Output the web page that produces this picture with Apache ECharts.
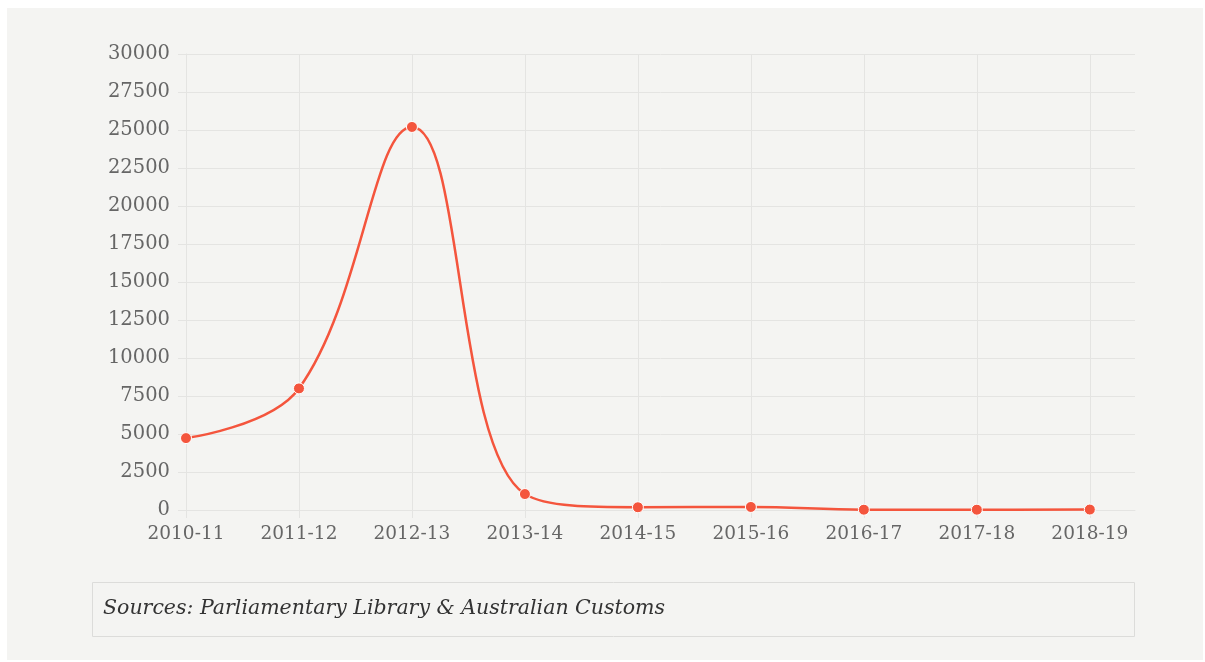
<!DOCTYPE html>
<html>
<head>
<meta charset="utf-8">
<title>Boat arrivals</title>
<script src="https://cdn.jsdelivr.net/npm/echarts@6/dist/echarts.min.js"></script>
<style>
  html, body { margin: 0; padding: 0; background: #ffffff; }
  #panel { position: absolute; left: 7px; top: 8px; width: 1196px; height: 652px; background: #f4f4f2; }
  #chart { width: 1196px; height: 652px; }
</style>
</head>
<body>
<div id="panel"><div id="chart"></div></div>
<script>
// Financial years shown along the horizontal axis
const years = ['2010-11', '2011-12', '2012-13', '2013-14', '2014-15', '2015-16', '2016-17', '2017-18', '2018-19'];
// Yearly totals
const arrivals = [4730, 8000, 25200, 1050, 180, 200, 20, 20, 30];
// Vertical axis range and step
const yMin = 0;
const yMax = 30000;
const yStep = 2500;

const serif = "Georgia, 'DejaVu Serif', serif";
const lineColor = '#f4553d';
const gridColor = '#e4e4e2';

const chart = echarts.init(document.getElementById('chart'));
chart.setOption({
  backgroundColor: 'transparent',
  animation: false,
  grid: { left: 179, top: 46, width: 949, height: 456, containLabel: false },
  xAxis: {
    type: 'value',
    min: 0,
    max: 8.4,
    interval: 1,
    axisLine: { show: true, lineStyle: { color: gridColor, width: 1 } },
    axisTick: { show: true, length: 8, lineStyle: { color: gridColor } },
    splitLine: { show: true, showMaxLine: false, lineStyle: { color: gridColor, width: 1 } },
    axisLabel: {
      showMaxLabel: false,
      margin: 15,
      color: '#666',
      fontFamily: serif,
      fontSize: 18.5,
      formatter: v => years[Math.round(v)] !== undefined && Math.abs(v - Math.round(v)) < 1e-6 ? years[Math.round(v)] : ''
    }
  },
  yAxis: {
    type: 'value',
    min: yMin,
    max: yMax,
    interval: yStep,
    axisLine: { show: true, lineStyle: { color: gridColor, width: 1 } },
    axisTick: { show: true, length: 8, lineStyle: { color: gridColor } },
    splitLine: { show: true, lineStyle: { color: gridColor, width: 1 } },
    axisLabel: {
      margin: 16,
      color: '#666',
      fontFamily: serif,
      fontSize: 19.5,
      formatter: v => String(v)
    }
  },
  series: [{
    type: 'line',
    data: arrivals.map((v, i) => [i, v]),
    smooth: 0.4,
    symbol: 'circle',
    symbolSize: 11,
    lineStyle: { color: lineColor, width: 2.5 },
    itemStyle: { color: lineColor, borderColor: '#ffffff', borderWidth: 1 },
    z: 5
  }],
  graphic: [
    {
      type: 'rect',
      shape: { x: 85.5, y: 574.5, width: 1042, height: 54 },
      style: { fill: '#f4f4f2', stroke: '#dcdcda', lineWidth: 1 }
    },
    {
      type: 'text',
      x: 96,
      y: 601,
      style: {
        text: 'Sources: Parliamentary Library & Australian Customs',
        fill: '#333',
        font: "italic 20.5px Georgia, 'DejaVu Serif', serif",
        verticalAlign: 'middle'
      }
    }
  ]
});
</script>
</body>
</html>
